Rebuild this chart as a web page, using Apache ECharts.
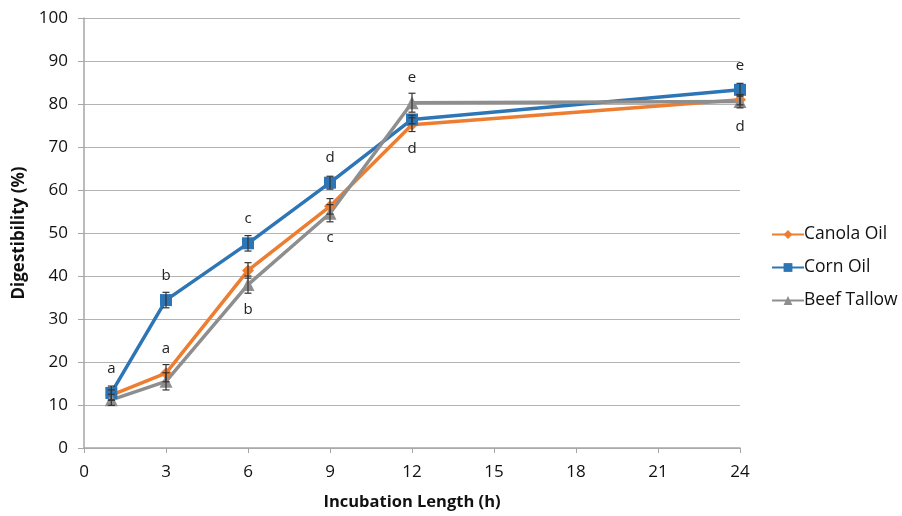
<!DOCTYPE html>
<html>
<head>
<meta charset="utf-8">
<script src="https://cdn.jsdelivr.net/npm/echarts@6/dist/echarts.min.js"></script>
<style>html,body{margin:0;padding:0;background:#fff}#c{width:902px;height:516px}</style>
</head>
<body>
<div id="c"></div>
<script>
const hours = [1, 3, 6, 9, 12, 24];
const xTicks = [0, 3, 6, 9, 12, 15, 18, 21, 24];
const canola = [12.3, 17.4, 41.3, 56.2, 75.2, 81.0];
const corn = [12.8, 34.4, 47.6, 61.7, 76.4, 83.3];
const beef = [11.2, 15.5, 38.0, 54.6, 80.3, 80.6];
const canolaErr = [1.2, 2.0, 1.8, 1.8, 1.6, 1.2];
const cornErr = [1.6, 1.8, 1.8, 1.5, 1.0, 1.5];
const beefErr = [1.3, 2.0, 2.0, 2.0, 2.2, 1.5];
const canolaLetters = ['', 'a', '', '', 'd', ''];
const canolaLetterPos = ['', 'top', '', '', 'bottom', ''];
const cornLetters = ['a', 'b', 'c', 'd', '', 'e'];
const cornLetterPos = ['top', 'top', 'top', 'top', '', 'top'];
const beefLetters = ['', '', 'b', 'c', 'e', 'd'];
const beefLetterPos = ['', '', 'bottom', 'bottom', 'top', 'bottom'];

const FONT = '"Open Sans", "Noto Sans", sans-serif';
const colors = { canola: '#ED7D31', corn: '#2E75B6', beef: '#8E8E8E' };

function pts(vals, letters, pos) {
  return hours.map((h, i) => {
    const item = { value: [h, vals[i]] };
    if (letters[i]) {
      item.label = {
        show: true, formatter: letters[i], position: pos[i], distance: 11,
        fontSize: 15, color: '#222', fontFamily: FONT
      };
    }
    return item;
  });
}
function errData(vals, errs) {
  return hours.map((h, i) => [h, vals[i], errs[i]]);
}
function errSeries(vals, errs) {
  return {
    type: 'custom', silent: true, z: 4,
    data: errData(vals, errs),
    renderItem: function (params, api) {
      const x = api.value(0), y = api.value(1), e = api.value(2);
      const top = api.coord([x, y + e]);
      const bot = api.coord([x, y - e]);
      const w = 3.5;
      const st = { stroke: '#333', lineWidth: 1.2 };
      return {
        type: 'group', children: [
          { type: 'line', shape: { x1: top[0], y1: top[1], x2: bot[0], y2: bot[1] }, style: st },
          { type: 'line', shape: { x1: top[0] - w, y1: top[1], x2: top[0] + w, y2: top[1] }, style: st },
          { type: 'line', shape: { x1: bot[0] - w, y1: bot[1], x2: bot[0] + w, y2: bot[1] }, style: st }
        ]
      };
    }
  };
}
function lineSeries(name, vals, letters, pos, color, symbol, size) {
  return {
    name: name, type: 'line', data: pts(vals, letters, pos),
    symbol: symbol, symbolSize: size, z: 3,
    lineStyle: { color: color, width: 3.5 },
    itemStyle: { color: color },
    emphasis: { disabled: true }
  };
}

const chart = echarts.init(document.getElementById('c'), null, { renderer: 'canvas' });
chart.setOption({
  animation: false,
  backgroundColor: '#fff',
  grid: { left: 84, right: 162, top: 18, bottom: 68, containLabel: false },
  legend: {
    orient: 'vertical', left: 766, top: 219, itemGap: 12,
    itemWidth: 32, itemHeight: 11,
    textStyle: { fontSize: 17.5, color: '#111', fontFamily: FONT, padding: [0, 0, 0, -5], lineHeight: 21 },
    data: ['Canola Oil', 'Corn Oil', 'Beef Tallow']
  },
  xAxis: {
    type: 'value', min: 0, max: 24, interval: 3,
    name: 'Incubation Length (h)', nameLocation: 'middle', nameGap: 46,
    nameTextStyle: { fontSize: 16.5, fontWeight: 'bold', color: '#111', fontFamily: FONT },
    axisLine: { lineStyle: { color: '#a6a6a6', width: 1.5 } },
    axisTick: { show: true, length: 5, lineStyle: { color: '#a6a6a6' } },
    axisLabel: { fontSize: 17, color: '#111', margin: 16, fontFamily: FONT,
      formatter: v => xTicks.indexOf(v) >= 0 ? String(v) : '' },
    splitLine: { show: false }
  },
  yAxis: {
    type: 'value', min: 0, max: 100, interval: 10,
    name: 'Digestibility (%)', nameLocation: 'middle', nameGap: 55,
    nameTextStyle: { fontSize: 17, fontWeight: 'bold', color: '#111', fontFamily: FONT },
    axisLine: { show: true, lineStyle: { color: '#a6a6a6', width: 1.5 } },
    axisTick: { show: true, length: 6, lineStyle: { color: '#a6a6a6' } },
    axisLabel: { fontSize: 17, color: '#111', margin: 16, fontFamily: FONT },
    splitLine: { show: true, lineStyle: { color: '#b3b3b3', width: 1.2 } }
  },
  series: [
    lineSeries('Canola Oil', canola, canolaLetters, canolaLetterPos, colors.canola, 'diamond', 12),
    lineSeries('Corn Oil', corn, cornLetters, cornLetterPos, colors.corn, 'rect', 12),
    lineSeries('Beef Tallow', beef, beefLetters, beefLetterPos, colors.beef, 'triangle', 13),
    errSeries(canola, canolaErr),
    errSeries(corn, cornErr),
    errSeries(beef, beefErr)
  ]
});
</script>
</body>
</html>
